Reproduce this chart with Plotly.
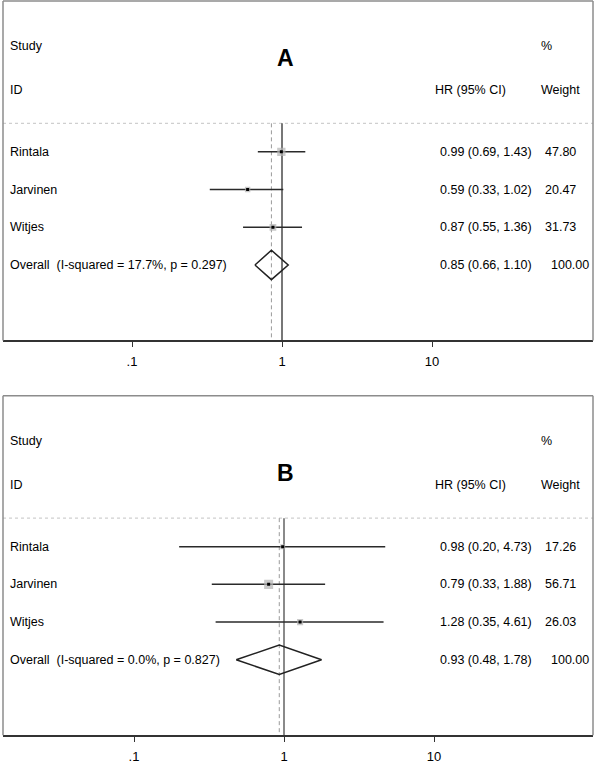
import plotly.graph_objects as go
import math

# ---------------- data ----------------
studies = ["Rintala", "Jarvinen", "Witjes"]

a_hr = [0.99, 0.59, 0.87]
a_lo = [0.69, 0.33, 0.55]
a_hi = [1.43, 1.02, 1.36]
a_weight = [47.80, 20.47, 31.73]
a_overall = [0.85, 0.66, 1.10]
a_overall_label = "Overall\u00a0 (I-squared = 17.7%, p = 0.297)"

b_hr = [0.98, 0.79, 1.28]
b_lo = [0.20, 0.33, 0.35]
b_hi = [4.73, 1.88, 4.61]
b_weight = [17.26, 56.71, 26.03]
b_overall = [0.93, 0.48, 1.78]
b_overall_label = "Overall\u00a0 (I-squared = 0.0%, p = 0.827)"

tick_vals = [0.1, 1, 10]
tick_text = [".1", "1", "10"]

# ---------------- style ----------------
FONT = "Liberation Sans, Arial, sans-serif"
FS = 12.5
W, H = 600, 764

fig = go.Figure()

panels = [
    dict(name="A", hr=a_hr, lo=a_lo, hi=a_hi, w=a_weight, ov=a_overall, ovlab=a_overall_label,
         top_px=1, axis_px=344, xr=[-279 / 150, 311 / 150], letter_y=-1.5, null_col="#4a4a4a", null_w=1.5),
    dict(name="B", hr=b_hr, lo=b_lo, hi=b_hi, w=b_weight, ov=b_overall, ovlab=b_overall_label,
         top_px=400, axis_px=743, xr=[-281 / 150, 309 / 150], letter_y=-0.95, null_col="#8a8a8a", null_w=2),
]

x_dom = [3 / W, 593 / W]
HEADER_Y = 0.244
DIAM_H = 0.39

annotations = []
shapes = []
layout_axes = {}

for i, p in enumerate(panels):
    sfx = "" if i == 0 else str(i + 1)
    xa, ya = "x" + sfx, "y" + sfx
    y_dom = [(H - p["axis_px"]) / H, (H - p["top_px"]) / H]
    rows = list(range(1, len(studies) + 1))
    ov_row = len(studies) + 1

    # null line at 1 and dashed overall line
    fig.add_trace(go.Scatter(x=[1, 1], y=[HEADER_Y, 6], mode="lines", xaxis=xa, yaxis=ya,
                             line=dict(color=p["null_col"], width=p["null_w"]),
                             showlegend=False, hoverinfo="skip"))
    fig.add_trace(go.Scatter(x=[p["ov"][0], p["ov"][0]], y=[HEADER_Y, 6], mode="lines", xaxis=xa, yaxis=ya,
                             line=dict(color="#9a9a9a", width=1, dash="4px,3px"),
                             showlegend=False, hoverinfo="skip"))

    # CI lines
    for r, lo, hi in zip(rows, p["lo"], p["hi"]):
        fig.add_trace(go.Scatter(x=[lo, hi], y=[r, r], mode="lines", xaxis=xa, yaxis=ya,
                                 line=dict(color="#2a2a2a", width=1.5),
                                 showlegend=False, hoverinfo="skip"))
    # weight boxes
    fig.add_trace(go.Scatter(x=p["hr"], y=rows, mode="markers", xaxis=xa, yaxis=ya,
                             marker=dict(symbol="square", color="#b4b4b4",
                                         size=[1.2 * math.sqrt(w) for w in p["w"]],
                                         line=dict(width=0)),
                             showlegend=False, hoverinfo="skip"))
    # point estimate dots
    fig.add_trace(go.Scatter(x=p["hr"], y=rows, mode="markers", xaxis=xa, yaxis=ya,
                             marker=dict(symbol="square", color="#000000", size=3),
                             showlegend=False, hoverinfo="skip"))
    # diamond
    est, lo, hi = p["ov"]
    fig.add_trace(go.Scatter(x=[lo, est, hi, est, lo],
                             y=[ov_row, ov_row - DIAM_H, ov_row, ov_row + DIAM_H, ov_row],
                             mode="lines", xaxis=xa, yaxis=ya,
                             line=dict(color="#222222", width=1.5),
                             showlegend=False, hoverinfo="skip"))

    layout_axes["xaxis" + sfx] = dict(
        type="log", range=p["xr"], domain=x_dom, anchor=ya,
        tickvals=tick_vals, ticktext=tick_text, ticks="outside", ticklen=5,
        tickcolor="#333333", tickwidth=1.2, ticklabelstandoff=3,
        showline=True, linecolor="#333333", linewidth=1.6,
        showgrid=False, zeroline=False,
        tickfont=dict(family=FONT, size=13, color="#000000"),
    )
    layout_axes["yaxis" + sfx] = dict(
        range=[6, -3], domain=y_dom, anchor=xa,
        showgrid=False, zeroline=False, showticklabels=False, showline=False, ticks="",
    )

    # border: left, top, right
    for (x0, y0, x1, y1) in [(0, 0, 0, 1), (0, 1, 1, 1), (1, 0, 1, 1)]:
        shapes.append(dict(type="line", xref=xa + " domain", yref=ya + " domain",
                           x0=x0, y0=y0, x1=x1, y1=y1,
                           line=dict(color="#8c8c8c", width=1.5)))
    # header separator
    shapes.append(dict(type="line", xref=xa + " domain", yref=ya,
                       x0=0, x1=1, y0=HEADER_Y, y1=HEADER_Y,
                       line=dict(color="#cfcfcf", width=1.2, dash="dot"), layer="below"))

    def txt(x, y, s, anchor="left", size=FS, bold=False):
        annotations.append(dict(xref="paper", yref=ya, x=x / W, y=y, text=("<b>%s</b>" % s) if bold else s,
                                showarrow=False, xanchor=anchor, yanchor="middle",
                                font=dict(family=FONT, size=size, color="#000000")))

    # headers
    txt(8, -1.8, "Study")
    txt(8, -0.64, "ID")
    txt(433, -0.64, "HR (95% CI)")
    txt(539, -1.8, "%")
    txt(539, -0.64, "Weight")
    txt(285, p["letter_y"], p["name"], anchor="center", size=23, bold=True)

    # study rows
    for r, s, hr, lo_, hi_, w in zip(rows, studies, p["hr"], p["lo"], p["hi"], p["w"]):
        txt(8, r, s)
        txt(438, r, "%.2f (%.2f, %.2f)" % (hr, lo_, hi_))
        txt(543, r, "%.2f" % w)
    # overall row
    txt(8, ov_row, p["ovlab"])
    txt(438, ov_row, "%.2f (%.2f, %.2f)" % tuple(p["ov"]))
    txt(549, ov_row, "%.2f" % sum(p["w"]))

fig.update_layout(
    width=W, height=H,
    margin=dict(l=0, r=0, t=0, b=0),
    paper_bgcolor="white", plot_bgcolor="white",
    annotations=annotations, shapes=shapes,
    showlegend=False,
    **layout_axes,
)

fig.write_html("out.html", config={"displayModeBar": False},
               post_script="document.body.style.margin='0px';document.body.style.overflow='hidden';")
